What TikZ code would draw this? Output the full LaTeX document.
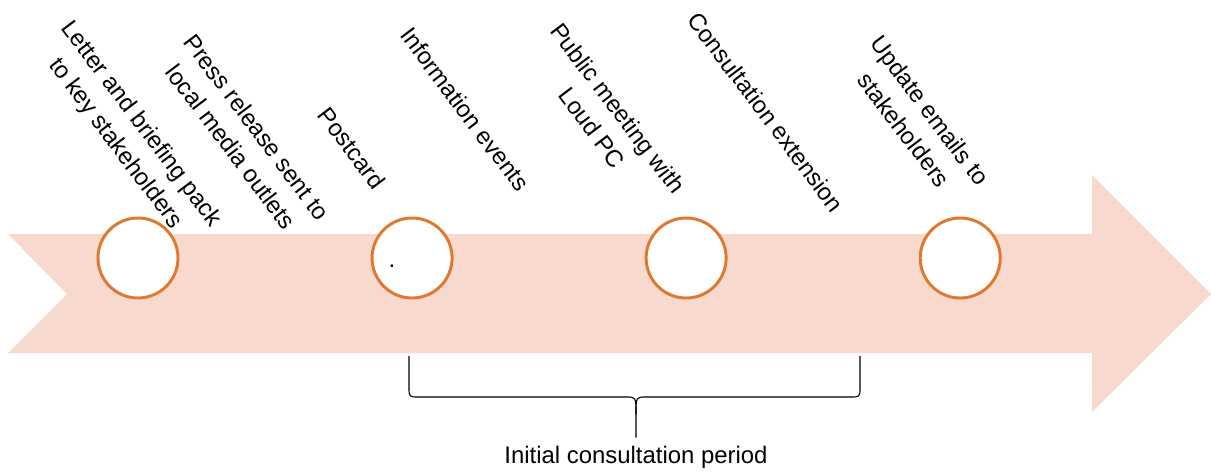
\documentclass[tikz,border=0pt]{standalone}
\usepackage{fontspec}
\setmainfont{Liberation Sans}
\usepackage{xcolor}
\usepackage{tikz}
\usetikzlibrary{positioning}
\definecolor{bandfill}{RGB}{248,217,206}
\definecolor{ringline}{RGB}{224,120,48}

\begin{document}
\begin{tikzpicture}[
  x=0.025cm, y=-0.025cm,
  milestone/.style={circle, draw=ringline, line width=2.1pt, fill=white, minimum size=2cm, inner sep=0pt},
  event/.style={rotate=-53, align=center, font=\fontsize{17}{23}\selectfont, inner sep=0pt},
  caption/.style={font=\fontsize{17}{23}\selectfont, inner xsep=0pt, inner ysep=5.7pt},
  node distance=6.85cm, on grid
]
  \useasboundingbox (0,0) rectangle (1211,474);
  \fill[bandfill] (8,234) -- (1092,234) -- (1092,175) -- (1211,294) -- (1092,412)
    -- (1092,353) -- (8,353) -- (67,294) -- cycle;

  \node[milestone] (m1) at (138,258) {};
  \node[milestone, right=of m1] (m2) {};
  \node[milestone, right=of m2] (m3) {};
  \node[milestone, right=of m3] (m4) {};
  \node[font=\fontsize{17}{23}\selectfont, inner sep=0pt] (dot) at (392,266) {.};

  \node[event] (e1) at (128,134) {Letter and briefing pack\\to key stakeholders};
  \node[event] (e2) at (244,137) {Press release sent to\\local media outlets};
  \node[event] (e3) at (352,148) {Postcard};
  \node[event] (e4) at (465,109) {Information events};
  \node[event] (e5) at (605,118) {Public meeting with\\Loud PC};
  \node[event] (e6) at (766,112) {Consultation extension};
  \node[event] (e7) at (917,120) {Update emails to\\stakeholders};

  \node[caption] (period) at (636,457) {Initial consultation period};
  \coordinate (bl) at (409,356);
  \coordinate (br) at (860,356);
  \draw[line width=0.8pt] (bl) -- (409,387) .. controls (409,397) .. (419,397) -- (626,397)
    .. controls (636,397) .. (636,414) -- (period.north);
  \draw[line width=0.8pt] (br) -- (860,387) .. controls (860,397) .. (850,397) -- (646,397)
    .. controls (636,397) .. (636,414);
\end{tikzpicture}
\end{document}
